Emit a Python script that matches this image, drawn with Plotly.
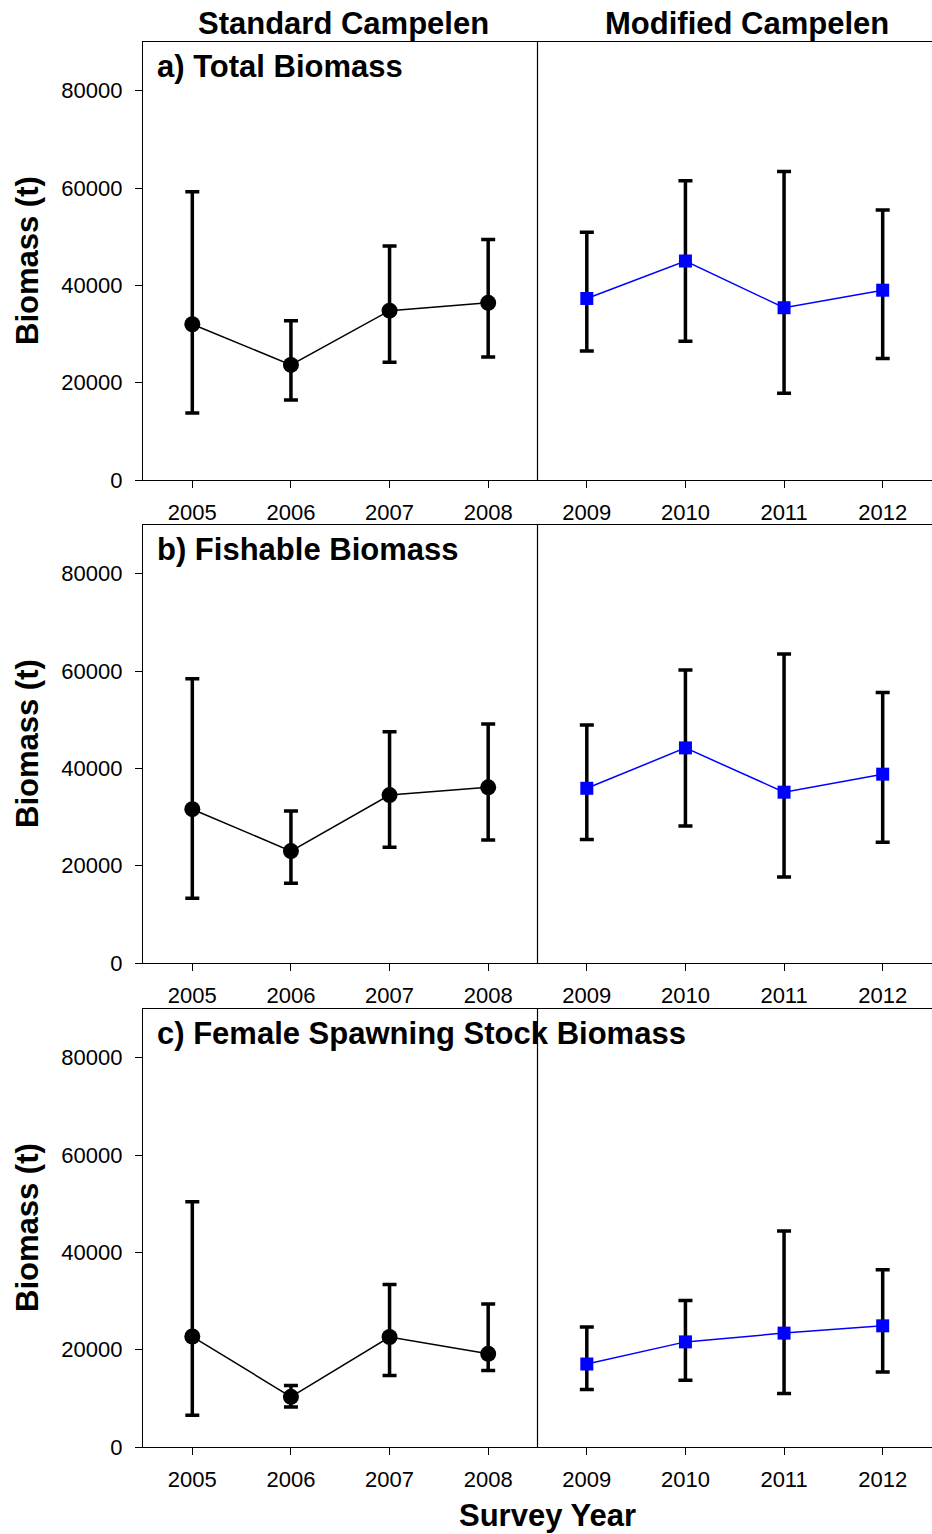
import plotly.graph_objects as go
from plotly.subplots import make_subplots

years_std = [2005, 2006, 2007, 2008]
years_mod = [2009, 2010, 2011, 2012]
tick_years = [2005, 2006, 2007, 2008, 2009, 2010, 2011, 2012]
y_ticks = [0, 20000, 40000, 60000, 80000]

panel_titles = ["a) Total Biomass", "b) Fishable Biomass", "c) Female Spawning Stock Biomass"]

# Panel a - Total biomass
total_std = [32000, 23650, 34800, 36400]
total_std_up = [59250, 32700, 48100, 49400]
total_std_lo = [13750, 16450, 24200, 25250]
total_mod = [37300, 45000, 35400, 39000]
total_mod_up = [50900, 61500, 63400, 55500]
total_mod_lo = [26500, 28500, 17850, 24950]

# Panel b - Fishable biomass
fish_std = [31600, 23000, 34500, 36100]
fish_std_up = [58400, 31250, 47500, 49100]
fish_std_lo = [13300, 16400, 23800, 25250]
fish_mod = [35900, 44200, 35100, 38800]
fish_mod_up = [48900, 60200, 63500, 55600]
fish_mod_lo = [25400, 28150, 17650, 24800]

# Panel c - Female spawning stock biomass
fssb_std = [22700, 10300, 22600, 19150]
fssb_std_up = [50400, 12650, 33400, 29400]
fssb_std_lo = [6500, 8200, 14700, 15700]
fssb_mod = [17050, 21600, 23400, 24900]
fssb_mod_up = [24650, 30100, 44400, 36400]
fssb_mod_lo = [11800, 13700, 11000, 15400]

panels = [
    (total_std, total_std_up, total_std_lo, total_mod, total_mod_up, total_mod_lo),
    (fish_std, fish_std_up, fish_std_lo, fish_mod, fish_mod_up, fish_mod_lo),
    (fssb_std, fssb_std_up, fssb_std_lo, fssb_mod, fssb_mod_up, fssb_mod_lo),
]

FONT = "Liberation Sans, Arial, sans-serif"
W, H = 932, 1534
L, R, T, B = 143, 0, 42, 87
ph = H - T - B
TITLE_SIZE = 31
TICK_SIZE = 22

def py(pix):
    return (H - B - pix) / ph

def px(pix):
    return (pix - L) / (W - L - R)

domains = [(py(480), py(42)), (py(963), py(525)), (py(1447), py(1009))]

fig = make_subplots(rows=3, cols=1)

def err(vals, up, lo):
    return dict(type="data", symmetric=False,
                array=[u - v for u, v in zip(up, vals)],
                arrayminus=[v - l for v, l in zip(vals, lo)],
                color="black", thickness=3.5, width=7)

bold = dict(family=FONT, size=TITLE_SIZE, color="black", weight="bold")

for i, (s, su, sl, m, mu, ml) in enumerate(panels):
    r = i + 1
    fig.add_trace(go.Scatter(x=years_std, y=s, mode="lines+markers",
                             line=dict(color="black", width=1.5),
                             marker=dict(symbol="circle", size=16, color="black"),
                             error_y=err(s, su, sl), showlegend=False), row=r, col=1)
    fig.add_trace(go.Scatter(x=years_mod, y=m, mode="lines+markers",
                             line=dict(color="#0000FF", width=1.5),
                             marker=dict(symbol="square", size=13, color="#0000FF"),
                             error_y=err(m, mu, ml), showlegend=False), row=r, col=1)
    fig.add_vline(x=2008.5, line=dict(color="black", width=1.2), row=r, col=1)

    xa = "xaxis" if r == 1 else f"xaxis{r}"
    ya = "yaxis" if r == 1 else f"yaxis{r}"
    fig.layout[xa].update(domain=[0, 1], range=[2004.5, 2012.5], tickvals=tick_years,
                          ticktext=[str(y) for y in tick_years],
                          showline=True, linecolor="black", linewidth=1.2, mirror=True,
                          ticks="outside", ticklen=7, tickcolor="black", tickwidth=1,
                          showgrid=False, zeroline=False, ticklabelstandoff=5,
                          tickfont=dict(family=FONT, size=TICK_SIZE, color="black"))
    fig.layout[ya].update(domain=list(domains[i]), range=[0, 90000], tickvals=y_ticks,
                          ticktext=[str(v) for v in y_ticks],
                          showline=True, linecolor="black", linewidth=1.2,
                          ticks="outside", ticklen=7, tickcolor="black", tickwidth=1,
                          showgrid=False, zeroline=False, ticklabelstandoff=8,
                          tickfont=dict(family=FONT, size=TICK_SIZE, color="black"))

    yref = "y domain" if r == 1 else f"y{r} domain"
    fig.add_annotation(text=panel_titles[i], x=px(155), xref="paper", xanchor="left",
                       y=0.944, yref=yref, yanchor="middle", showarrow=False, font=bold)
    fig.add_annotation(text="Biomass (t)", textangle=-90, x=px(27), xref="paper",
                       xanchor="center", y=0.5, yref=yref, yanchor="middle",
                       showarrow=False, font=bold)

fig.add_annotation(text="Standard Campelen", x=px(343.5), xref="paper", xanchor="center",
                   y=py(24), yref="paper", yanchor="middle", showarrow=False, font=bold)
fig.add_annotation(text="Modified Campelen", x=px(746.5), xref="paper", xanchor="center",
                   y=py(24), yref="paper", yanchor="middle", showarrow=False, font=bold)
fig.add_annotation(text="Survey Year", x=px(547), xref="paper", xanchor="center",
                   y=py(1516), yref="paper", yanchor="middle", showarrow=False, font=bold)

fig.update_layout(width=W, height=H, margin=dict(l=L, r=R, t=T, b=B),
                  plot_bgcolor="white", paper_bgcolor="white", showlegend=False)

fig.write_html("out.html")
